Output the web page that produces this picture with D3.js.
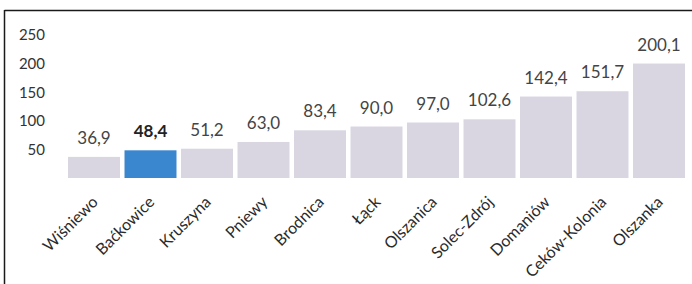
<!DOCTYPE html>
<html>
<head>
<meta charset="utf-8">
<script src="https://cdn.jsdelivr.net/npm/d3@7"></script>
<style>
  html, body { margin: 0; padding: 0; background: #fff; }
  svg { display: block; }
  text { font-family: Lato, "Open Sans", sans-serif; }
</style>
</head>
<body>
<svg id="chart" width="692" height="284"></svg>
<script>
const categories = ["Wiśniewo", "Baćkowice", "Kruszyna", "Pniewy", "Brodnica", "Łąck", "Olszanica", "Solec-Zdrój", "Domaniów", "Ceków-Kolonia", "Olszanka"];
const values = [36.9, 48.4, 51.2, 63.0, 83.4, 90.0, 97.0, 102.6, 142.4, 151.7, 200.1];
const highlighted = ["Baćkowice"];
const yTicks = [50, 100, 150, 200, 250];

const W = 692, H = 284;
const svg = d3.select("#chart");

const locale = d3.formatLocale({ decimal: ",", thousands: " ", grouping: [3], currency: ["", " zł"] });
const fmt = locale.format(".1f");

const x = d3.scaleBand().domain(categories).range([65.75, 687.25]).paddingInner(0.08).paddingOuter(0.04);
const y = d3.scaleLinear().domain([0, 250]).range([178, 35]);

// frame
svg.append("line").attr("x1", 4.5).attr("x2", W).attr("y1", 10.5).attr("y2", 10.5)
  .attr("stroke", "#1a1a1a").attr("stroke-width", 1.5);
svg.append("line").attr("x1", 4.5).attr("x2", 4.5).attr("y1", 10).attr("y2", H)
  .attr("stroke", "#1a1a1a").attr("stroke-width", 1.5);

// y axis
const yAxis = svg.append("g").attr("transform", "translate(45,0)")
  .call(d3.axisLeft(y).tickValues(yTicks).tickSize(0).tickPadding(0).tickFormat(d3.format("d")));
yAxis.select(".domain").remove();
yAxis.selectAll("text").attr("font-size", 15).attr("fill", "#333").attr("font-family", "Lato, sans-serif");

const data = categories.map((c, i) => ({ c, v: values[i], hi: highlighted.includes(c) }));

// bars
svg.append("g").selectAll("rect").data(data).join("rect")
  .attr("x", d => x(d.c))
  .attr("width", x.bandwidth())
  .attr("y", d => y(d.v))
  .attr("height", d => y(0) - y(d.v))
  .attr("fill", d => d.hi ? "#3a86cf" : "#d9d6e2");

// value labels
svg.append("g").selectAll("text").data(data).join("text")
  .attr("x", d => x(d.c) + x.bandwidth() / 2)
  .attr("y", d => y(d.v) - 13)
  .attr("text-anchor", "middle")
  .attr("font-size", 17)
  .attr("font-weight", d => d.hi ? "bold" : "normal")
  .attr("fill", d => d.hi ? "#222" : "#444")
  .text(d => fmt(d.v));

// category labels
svg.append("g").selectAll("text").data(data).join("text")
  .attr("transform", d => `translate(${x(d.c) + x.bandwidth() / 2 + 5},203) rotate(-45)`)
  .attr("text-anchor", "end")
  .attr("font-size", 16)
  .attr("fill", "#2a2a2a")
  .text(d => d.c);
</script>
</body>
</html>
